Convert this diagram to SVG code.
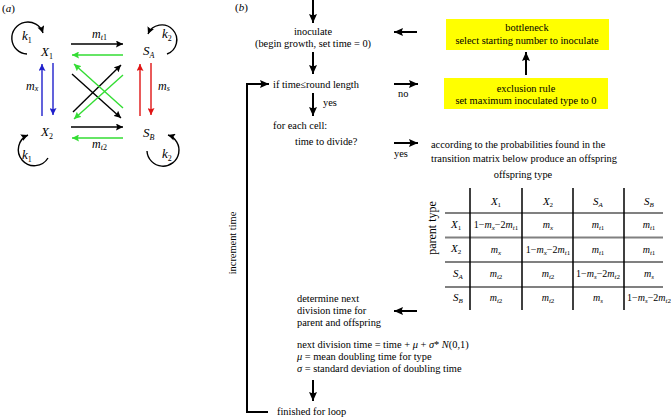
<svg xmlns="http://www.w3.org/2000/svg" width="671" height="418" viewBox="0 0 671 418">
<style>
.big{stroke:#000;stroke-width:2;fill:none}
.thin{stroke-width:1.4;fill:none}
.k{stroke:#000}
.g{stroke:#33dd33}
.b{stroke:#2020cc}
.r{stroke:#e01414}
.hl{stroke:#808080;stroke-width:2.2}
.vl{stroke:#000;stroke-width:1.5}
.box{fill:#ffff00}
</style>
<defs>
<marker id="ah" markerUnits="userSpaceOnUse" markerWidth="10" markerHeight="8" refX="9" refY="4" orient="auto"><path d="M0,0 L9,4 L0,8 L1.5,4 z" fill="#000"/></marker>
<marker id="ak" markerUnits="userSpaceOnUse" markerWidth="8" markerHeight="7" refX="7" refY="3.5" orient="auto"><path d="M0,0 L7,3.5 L0,7 L1.2,3.5 z" fill="#000"/></marker>
<marker id="ag" markerUnits="userSpaceOnUse" markerWidth="8" markerHeight="7" refX="7" refY="3.5" orient="auto"><path d="M0,0 L7,3.5 L0,7 L1.2,3.5 z" fill="#33dd33"/></marker>
<marker id="ab" markerUnits="userSpaceOnUse" markerWidth="8" markerHeight="7" refX="7" refY="3.5" orient="auto"><path d="M0,0 L7,3.5 L0,7 L1.2,3.5 z" fill="#2020cc"/></marker>
<marker id="ar" markerUnits="userSpaceOnUse" markerWidth="8" markerHeight="7" refX="7" refY="3.5" orient="auto"><path d="M0,0 L7,3.5 L0,7 L1.2,3.5 z" fill="#e01414"/></marker>
</defs>

<text font-family="Liberation Serif" font-size="11" x="2" y="12">(<tspan font-style="italic">a</tspan>)</text>

<g id="node-X1">
<text font-family="Liberation Serif" font-size="13" font-style="italic" x="41" y="56">X<tspan font-size="8" font-style="normal" dy="3">1</tspan></text>
</g>
<g id="node-X2">
<text font-family="Liberation Serif" font-size="13" font-style="italic" x="41" y="136">X<tspan font-size="8" font-style="normal" dy="3">2</tspan></text>
</g>
<g id="node-SA">
<text font-family="Liberation Serif" font-size="13" font-style="italic" x="143" y="55">S<tspan font-size="8" dy="3">A</tspan></text>
</g>
<g id="node-SB">
<text font-family="Liberation Serif" font-size="13" font-style="italic" x="143" y="137">S<tspan font-size="8" dy="3">B</tspan></text>
</g>

<g id="connectors-a">
<path class="thin k" d="M27,54 A16 16 0 1 1 43,33" marker-end="url(#ak)"/>
<path class="thin k" d="M167,54 A15 15 0 1 0 148,34" marker-end="url(#ak)"/>
<path class="thin k" d="M48,158 A16 16 0 1 1 28,135" marker-end="url(#ak)"/>
<path class="thin k" d="M147,151 A16 16 0 1 0 168,135" marker-end="url(#ak)"/>
<line class="thin k" x1="71" y1="44" x2="123" y2="44" marker-end="url(#ak)"/>
<line class="thin g" x1="123" y1="55" x2="72" y2="55" marker-end="url(#ag)"/>
<line class="thin k" x1="71" y1="127" x2="123" y2="127" marker-end="url(#ak)"/>
<line class="thin g" x1="123" y1="138" x2="72" y2="138" marker-end="url(#ag)"/>
<line class="thin k" x1="72" y1="74" x2="121" y2="118" marker-end="url(#ak)"/>
<line class="thin k" x1="73" y1="112" x2="121" y2="65" marker-end="url(#ak)"/>
<line class="thin g" x1="123" y1="108" x2="74" y2="64" marker-end="url(#ag)"/>
<line class="thin g" x1="123" y1="75" x2="74" y2="119" marker-end="url(#ag)"/>
<line class="thin b" x1="42" y1="116" x2="42" y2="64" marker-end="url(#ab)"/>
<line class="thin b" x1="53" y1="63" x2="53" y2="115" marker-end="url(#ab)"/>
<line class="thin r" x1="140" y1="116" x2="140" y2="64" marker-end="url(#ar)"/>
<line class="thin r" x1="151" y1="63" x2="151" y2="115" marker-end="url(#ar)"/>
</g>

<g id="labels-a">
<text font-family="Liberation Serif" font-size="13" font-style="italic" x="22" y="40">k<tspan font-size="8" font-style="normal" dy="3">1</tspan></text>
<text font-family="Liberation Serif" font-size="13" font-style="italic" x="162" y="38">k<tspan font-size="8" font-style="normal" dy="3">2</tspan></text>
<text font-family="Liberation Serif" font-size="13" font-style="italic" x="22" y="159">k<tspan font-size="8" font-style="normal" dy="3">1</tspan></text>
<text font-family="Liberation Serif" font-size="13" font-style="italic" x="162" y="158">k<tspan font-size="8" font-style="normal" dy="3">2</tspan></text>
<text font-family="Liberation Serif" font-size="12" font-style="italic" x="92" y="38">m<tspan font-size="8" dy="2">t</tspan><tspan font-size="8" font-style="normal">1</tspan></text>
<text font-family="Liberation Serif" font-size="12" font-style="italic" x="92" y="148">m<tspan font-size="8" dy="2">t</tspan><tspan font-size="8" font-style="normal">2</tspan></text>
<text font-family="Liberation Serif" font-size="12" font-style="italic" x="26" y="90">m<tspan font-size="8" dy="1">x</tspan></text>
<text font-family="Liberation Serif" font-size="12" font-style="italic" x="158" y="90">m<tspan font-size="8" dy="1">s</tspan></text>
</g>

<text font-family="Liberation Serif" font-size="11" x="235" y="11">(<tspan font-style="italic">b</tspan>)</text>

<g id="node-inoculate">
<text font-family="Liberation Serif" font-size="10.4" text-anchor="middle" x="313" y="35">inoculate</text>
<text font-family="Liberation Serif" font-size="10.4" text-anchor="middle" x="313" y="47">(begin growth, set time = 0)</text>
</g>
<g id="node-bottleneck">
<rect class="box" x="446" y="19" width="163" height="31"/>
<text font-family="Liberation Serif" font-size="10.4" text-anchor="middle" x="527" y="31">bottleneck</text>
<text font-family="Liberation Serif" font-size="10.4" text-anchor="middle" x="527" y="43.5">select starting number to inoculate</text>
</g>
<g id="node-exclusion">
<rect class="box" x="444" y="78" width="164" height="31"/>
<text font-family="Liberation Serif" font-size="10.4" text-anchor="middle" x="526" y="92">exclusion rule</text>
<text font-family="Liberation Serif" font-size="10.4" text-anchor="middle" x="526" y="104">set maximum inoculated type to 0</text>
</g>
<g id="node-if">
<text font-family="Liberation Serif" font-size="10.4" x="273" y="88">if time≤round length</text>
</g>
<g id="node-foreach">
<text font-family="Liberation Serif" font-size="10.4" x="273" y="129">for each cell:</text>
<text font-family="Liberation Serif" font-size="10.4" x="295" y="145">time to divide?</text>
</g>
<g id="node-produce">
<text font-family="Liberation Serif" font-size="10.4" x="431" y="148">according to the probabilities found in the</text>
<text font-family="Liberation Serif" font-size="10.4" x="431" y="162">transition matrix below produce an offspring</text>
</g>
<g id="node-determine">
<text font-family="Liberation Serif" font-size="10.4" x="297" y="302">determine next</text>
<text font-family="Liberation Serif" font-size="10.4" x="297" y="314">division time for</text>
<text font-family="Liberation Serif" font-size="10.4" x="297" y="326">parent and offspring</text>
<text font-family="Liberation Serif" font-size="10.4" x="297" y="348">next division time = time + <tspan font-style="italic">μ</tspan> + <tspan font-style="italic">σ</tspan>* <tspan font-style="italic">N</tspan>(0,1)</text>
<text font-family="Liberation Serif" font-size="10.4" x="297" y="360"><tspan font-style="italic">μ</tspan> = mean doubling time for type</text>
<text font-family="Liberation Serif" font-size="10.4" x="297" y="372"><tspan font-style="italic">σ</tspan> = standard deviation of doubling time</text>
</g>
<g id="node-finished">
<text font-family="Liberation Serif" font-size="10.4" x="277" y="415">finished for loop</text>
</g>

<g id="connectors-b">
<line class="big" x1="313" y1="0" x2="313" y2="23" marker-end="url(#ah)"/>
<line class="big" x1="313" y1="52" x2="313" y2="74" marker-end="url(#ah)"/>
<line class="big" x1="313" y1="93" x2="313" y2="116" marker-end="url(#ah)"/>
<line class="big" x1="313" y1="380" x2="313" y2="401" marker-end="url(#ah)"/>
<polyline class="big" points="268,412 247,412 247,84 269,84" marker-end="url(#ah)"/>
<line class="big" x1="394" y1="84" x2="418" y2="84" marker-end="url(#ah)"/>
<line class="big" x1="417" y1="32" x2="394" y2="32" marker-end="url(#ah)"/>
<line class="big" x1="526" y1="75" x2="526" y2="52" marker-end="url(#ah)"/>
<line class="big" x1="394" y1="143" x2="418" y2="143" marker-end="url(#ah)"/>
<line class="big" x1="417" y1="311" x2="394" y2="311" marker-end="url(#ah)"/>
</g>
<g id="labels-b">
<text font-family="Liberation Serif" font-size="10.4" x="398" y="97">no</text>
<text font-family="Liberation Serif" font-size="10.4" x="323" y="106">yes</text>
<text font-family="Liberation Serif" font-size="10.4" x="394" y="157">yes</text>
<text font-family="Liberation Serif" font-size="10.4" text-anchor="middle" transform="translate(236,243) rotate(-90)">increment time</text>
</g>

<g id="table">
<text font-family="Liberation Serif" font-size="10.4" text-anchor="middle" x="523" y="178">offspring type</text>
<text font-family="Liberation Serif" font-size="12" text-anchor="middle" transform="translate(436,228) rotate(-90)">parent type</text>
<line class="hl" x1="445" y1="213" x2="663" y2="213"/>
<line class="hl" x1="445" y1="237.5" x2="663" y2="237.5"/>
<line class="hl" x1="445" y1="262" x2="663" y2="262"/>
<line class="hl" x1="445" y1="287" x2="663" y2="287"/>
<line class="vl" x1="470" y1="188" x2="470" y2="310"/>
<line class="vl" x1="522" y1="188" x2="522" y2="310"/>
<line class="vl" x1="573" y1="188" x2="573" y2="310"/>
<line class="vl" x1="624" y1="188" x2="624" y2="310"/>
<text font-family="Liberation Serif" font-size="11" font-style="italic" text-anchor="middle" x="496" y="205">X<tspan font-size="7" font-style="normal" dy="2">1</tspan></text>
<text font-family="Liberation Serif" font-size="11" font-style="italic" text-anchor="middle" x="548" y="205">X<tspan font-size="7" font-style="normal" dy="2">2</tspan></text>
<text font-family="Liberation Serif" font-size="11" font-style="italic" text-anchor="middle" x="598" y="205">S<tspan font-size="7" dy="2">A</tspan></text>
<text font-family="Liberation Serif" font-size="11" font-style="italic" text-anchor="middle" x="649" y="205">S<tspan font-size="7" dy="2">B</tspan></text>
<text font-family="Liberation Serif" font-size="11" font-style="italic" x="451" y="228">X<tspan font-size="7" font-style="normal" dy="2">1</tspan></text>
<text font-family="Liberation Serif" font-size="11" font-style="italic" x="451" y="252">X<tspan font-size="7" font-style="normal" dy="2">2</tspan></text>
<text font-family="Liberation Serif" font-size="11" font-style="italic" x="453" y="277">S<tspan font-size="7" dy="2">A</tspan></text>
<text font-family="Liberation Serif" font-size="11" font-style="italic" x="453" y="301">S<tspan font-size="7" dy="2">B</tspan></text>
<text font-family="Liberation Serif" font-size="10" text-anchor="middle" x="496" y="228">1−<tspan font-style="italic">m</tspan><tspan font-size="7" font-style="italic" dy="2">x</tspan><tspan dy="-2">−2</tspan><tspan font-style="italic">m</tspan><tspan font-size="7" font-style="italic" dy="2">t</tspan><tspan font-size="7">1</tspan></text>
<text font-family="Liberation Serif" font-size="10" text-anchor="middle" x="548" y="228"><tspan font-style="italic">m</tspan><tspan font-size="7" font-style="italic" dy="2">x</tspan></text>
<text font-family="Liberation Serif" font-size="10" text-anchor="middle" x="598" y="228"><tspan font-style="italic">m</tspan><tspan font-size="7" font-style="italic" dy="2">t</tspan><tspan font-size="7">1</tspan></text>
<text font-family="Liberation Serif" font-size="10" text-anchor="middle" x="649" y="228"><tspan font-style="italic">m</tspan><tspan font-size="7" font-style="italic" dy="2">t</tspan><tspan font-size="7">1</tspan></text>
<text font-family="Liberation Serif" font-size="10" text-anchor="middle" x="496" y="252.5"><tspan font-style="italic">m</tspan><tspan font-size="7" font-style="italic" dy="2">x</tspan></text>
<text font-family="Liberation Serif" font-size="10" text-anchor="middle" x="548" y="252.5">1−<tspan font-style="italic">m</tspan><tspan font-size="7" font-style="italic" dy="2">x</tspan><tspan dy="-2">−2</tspan><tspan font-style="italic">m</tspan><tspan font-size="7" font-style="italic" dy="2">t</tspan><tspan font-size="7">1</tspan></text>
<text font-family="Liberation Serif" font-size="10" text-anchor="middle" x="598" y="252.5"><tspan font-style="italic">m</tspan><tspan font-size="7" font-style="italic" dy="2">t</tspan><tspan font-size="7">1</tspan></text>
<text font-family="Liberation Serif" font-size="10" text-anchor="middle" x="649" y="252.5"><tspan font-style="italic">m</tspan><tspan font-size="7" font-style="italic" dy="2">t</tspan><tspan font-size="7">1</tspan></text>
<text font-family="Liberation Serif" font-size="10" text-anchor="middle" x="496" y="277"><tspan font-style="italic">m</tspan><tspan font-size="7" font-style="italic" dy="2">t</tspan><tspan font-size="7">2</tspan></text>
<text font-family="Liberation Serif" font-size="10" text-anchor="middle" x="548" y="277"><tspan font-style="italic">m</tspan><tspan font-size="7" font-style="italic" dy="2">t</tspan><tspan font-size="7">2</tspan></text>
<text font-family="Liberation Serif" font-size="10" text-anchor="middle" x="598" y="277">1−<tspan font-style="italic">m</tspan><tspan font-size="7" font-style="italic" dy="2">s</tspan><tspan dy="-2">−2</tspan><tspan font-style="italic">m</tspan><tspan font-size="7" font-style="italic" dy="2">t</tspan><tspan font-size="7">2</tspan></text>
<text font-family="Liberation Serif" font-size="10" text-anchor="middle" x="649" y="277"><tspan font-style="italic">m</tspan><tspan font-size="7" font-style="italic" dy="2">s</tspan></text>
<text font-family="Liberation Serif" font-size="10" text-anchor="middle" x="496" y="301"><tspan font-style="italic">m</tspan><tspan font-size="7" font-style="italic" dy="2">t</tspan><tspan font-size="7">2</tspan></text>
<text font-family="Liberation Serif" font-size="10" text-anchor="middle" x="548" y="301"><tspan font-style="italic">m</tspan><tspan font-size="7" font-style="italic" dy="2">t</tspan><tspan font-size="7">2</tspan></text>
<text font-family="Liberation Serif" font-size="10" text-anchor="middle" x="598" y="301"><tspan font-style="italic">m</tspan><tspan font-size="7" font-style="italic" dy="2">s</tspan></text>
<text font-family="Liberation Serif" font-size="10" text-anchor="middle" x="649" y="301">1−<tspan font-style="italic">m</tspan><tspan font-size="7" font-style="italic" dy="2">s</tspan><tspan dy="-2">−2</tspan><tspan font-style="italic">m</tspan><tspan font-size="7" font-style="italic" dy="2">t</tspan><tspan font-size="7">2</tspan></text>
</g>
</svg>
